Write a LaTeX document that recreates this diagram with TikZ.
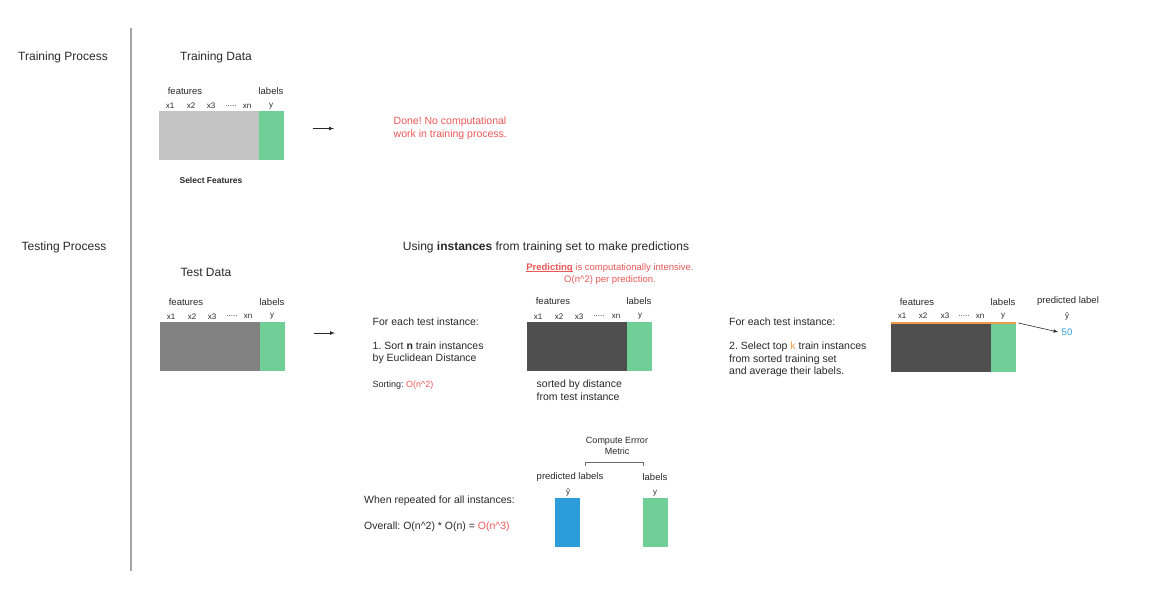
\documentclass[tikz,border=0pt]{standalone}
\usepackage{fontspec}
\setmainfont{Liberation Sans}
\usepackage{xcolor}
\frenchspacing
\definecolor{lightgrey}{RGB}{196,196,196}
\definecolor{midgrey}{RGB}{130,130,130}
\definecolor{darkgrey}{RGB}{79,79,79}
\definecolor{labelgreen}{RGB}{111,207,151}
\definecolor{costred}{RGB}{235,87,87}
\definecolor{topk}{RGB}{242,153,74}
\definecolor{predblue}{RGB}{45,156,219}
\definecolor{divider}{RGB}{165,165,165}
\definecolor{ink}{RGB}{40,40,40}
\newcommand{\ulword}[1]{\setbox0\hbox{#1}\rlap{\rule[-1.4pt]{\wd0}{0.7pt}}\box0\relax}
\tikzstyle{featbox}=[minimum width=100pt, minimum height=49pt, inner sep=0, anchor=north west]
\tikzstyle{labbox}=[minimum width=25pt, minimum height=49pt, inner sep=0, anchor=north west]
\tikzset{title/.style={text=ink, font=\fontsize{12}{14}\selectfont}}
\tikzset{body/.style={text=ink, align=left, anchor=west, inner xsep=0pt, font=\fontsize{10.5}{12.5}\selectfont}}
\tikzset{colhead/.style={text=ink, font=\fontsize{9.5}{11}\selectfont}}
\tikzset{colname/.style={text=ink, font=\fontsize{8}{10}\selectfont}}
\tikzset{note/.style={text=ink, font=\fontsize{9}{11}\selectfont}}

\begin{document}
\begin{tikzpicture}[x=1pt,y=-1pt]
  \useasboundingbox (0,0) rectangle (1175,594);
  \draw[divider, line width=1.2pt] (131,28) -- (131,571);

  \draw (63,57) node[title] (trainproc) {Training Process};
  \draw (64,247) node[title] (testproc) {Testing Process};

  %% Training data
  \draw (216,57) node[title] (traindata) {Training Data};
  \draw (159,111) node[featbox, fill=lightgrey] (trainx) {};
  \draw (259,111) node[labbox, fill=labelgreen] (trainy) {};
  \draw (185,91) node[colhead] (trainfeat) {features};
  \draw (271,91) node[colhead] (trainlab) {labels};
  \draw (170,106) node[colname] (trainxa) {x1};
  \draw (191,106) node[colname] (trainxb) {x2};
  \draw (211,106) node[colname] (trainxc) {x3};
  \draw (231,106) node[colname] (trainxd) {.....};
  \draw (247,106) node[colname] (trainxn) {xn};
  \draw (271,106) node[colname] (trainyy) {y};
  \draw (211,180) node[note, font=\fontsize{8.5}{10}\selectfont\bfseries] (selfeat) {Select Features};

  \coordinate (trainfrom) at (313,128.5);
  \coordinate (trainto) at (334,128.5);
  \draw[-latex, ink, line width=0.7pt] (trainfrom) -- (trainto);
  \draw (393.5,128.5) node[body, text=costred] (done) {Done! No computational\\work in training process.};

  %% Test data
  \draw (546,247) node[title] (using) {Using \textbf{instances} from training set to make predictions};
  \draw (206,272) node[title] (testdata) {Test Data};
  \draw (160,322) node[featbox, fill=midgrey] (testx) {};
  \draw (260,322) node[labbox, fill=labelgreen] (testy) {};
  \draw (186,302) node[colhead] (testfeat) {features};
  \draw (272,302) node[colhead] (testlab) {labels};
  \draw (171,316.5) node[colname] (testxa) {x1};
  \draw (192,316.5) node[colname] (testxb) {x2};
  \draw (212,316.5) node[colname] (testxc) {x3};
  \draw (232,316.5) node[colname] (testxd) {.....};
  \draw (248,316.5) node[colname] (testxn) {xn};
  \draw (272,316.5) node[colname] (testyy) {y};

  \coordinate (testfrom) at (314,333);
  \coordinate (testto) at (335,333);
  \draw[-latex, ink, line width=0.7pt] (testfrom) -- (testto);

  %% Step 1: sort
  \draw (372.5,321.5) node[body] (stepa) {For each test instance:};
  \draw (372.5,353) node[body] (sortn) {1. Sort \textbf{n} train instances\\by Euclidean Distance};
  \draw (372.5,385) node[body, font=\fontsize{9}{11}\selectfont] (sortcost) {Sorting: \textcolor{costred}{O(n\^{}2)}};
  \draw (610,274) node[note, text=costred, align=center, font=\fontsize{9.5}{12}\selectfont] (intensive) {\ulword{\textbf{Predicting}} is computationally intensive.\\O(n\^{}2) per prediction.};

  \draw (527,322) node[featbox, fill=darkgrey] (sortx) {};
  \draw (627,322) node[labbox, fill=labelgreen] (sorty) {};
  \draw (553,301.5) node[colhead] (sortfeat) {features};
  \draw (639,301.5) node[colhead] (sortlab) {labels};
  \draw (538,316.5) node[colname] (sortxa) {x1};
  \draw (559,316.5) node[colname] (sortxb) {x2};
  \draw (579,316.5) node[colname] (sortxc) {x3};
  \draw (599,316.5) node[colname] (sortxd) {.....};
  \draw (616,316.5) node[colname] (sortxn) {xn};
  \draw (640,316.5) node[colname] (sortyy) {y};
  \draw (536.5,390) node[body] (sorted) {sorted by distance\\from test instance};

  %% Step 2: top k
  \draw (729,322) node[body] (stepb) {For each test instance:};
  \draw (729,359.5) node[body] (topsel) {2. Select top \textcolor{topk}{k} train instances\\from sorted training set\\and average their labels.};

  \draw (891,323) node[featbox, fill=darkgrey] (topx) {};
  \draw (991,323) node[labbox, fill=labelgreen] (topy) {};
  \draw[topk, line width=1.6pt] (topx.north west) -- (topy.north east);
  \draw (917,302) node[colhead] (topfeat) {features};
  \draw (1003,302) node[colhead] (toplab) {labels};
  \draw (902,316) node[colname] (topxa) {x1};
  \draw (923,316) node[colname] (topxb) {x2};
  \draw (945,316) node[colname] (topxc) {x3};
  \draw (964,316) node[colname] (topxd) {.....};
  \draw (980,316) node[colname] (topxn) {xn};
  \draw (1003,316) node[colname] (topyy) {y};
  \draw (1068,301) node[colhead] (predlab) {predicted label};
  \draw (1067,316) node[colname] (predhat) {ŷ};
  \draw (1067,332) node[colhead, text=predblue] (fifty) {50};
  \draw[-latex, ink, line width=0.6pt] (topy.north east) ++(2,0) -- (fifty.west);

  %% Error metric
  \draw (617,446) node[note, align=center] (metric) {Compute Errror\\Metric};
  \draw (570,477.5) node[colhead] (predlabs) {predicted labels};
  \draw (568,492) node[colname] (predhatb) {ŷ};
  \draw (655,477.5) node[colhead] (truelabs) {labels};
  \draw (655,493) node[colname] (trueyy) {y};
  \draw (555,498) node[labbox, fill=predblue] (predbar) {};
  \draw (643,498) node[labbox, fill=labelgreen] (truebar) {};
  \draw[ink!70, line width=1pt] (585,466) -- (585,462) -- (643,462) -- (643,466);

  \draw (364,500.5) node[body] (repeat) {When repeated for all instances:};
  \draw (364,526.5) node[body] (overall) {Overall: O(n\^{}2) * O(n) = \textcolor{costred}{O(n\^{}3)}};
\end{tikzpicture}
\end{document}
